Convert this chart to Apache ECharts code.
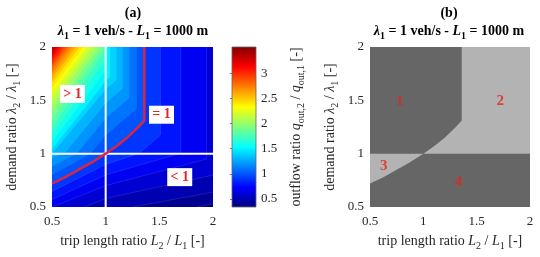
<!DOCTYPE html>
<html>
<head>
<meta charset="utf-8">
<script src="https://cdn.jsdelivr.net/npm/echarts@6/dist/echarts.min.js"></script>
<style>
html, body { margin: 0; padding: 0; background: #fff; }
#chart { width: 540px; height: 257px; }
</style>
</head>
<body>
<div id="chart"></div>
<script>
// axis ticks
var xTicks = [0.5, 1, 1.5, 2];
var yTicks = [0.5, 1, 1.5, 2];
var barTicks = [0.5, 1, 1.5, 2, 2.5, 3];
var colorLimits = [0.34, 3.52];
var refRatio = 1;

// contour lines, demand ratio between 1 and 2
var upperBase = 0.6;
var upperLevels = [0.7, 0.8, 0.9, 1.0, 1.1, 1.2, 1.3, 1.4, 1.5, 1.6, 1.7, 1.8, 1.9, 2.0,
  2.1, 2.2, 2.3, 2.4, 2.5, 2.6, 2.7, 2.8, 2.9, 3.0, 3.1, 3.2, 3.3, 3.4];
var upperLines = [
  [[1.94, 1], [1.94, 2]],
  [[1.686, 1], [1.70, 1.012], [1.70, 2]],
  [[1.306, 1], [1.51, 1.174], [1.51, 2]],
  [[1, 1], [1.1, 1.07], [1.2, 1.15], [1.3, 1.245], [1.36, 1.31], [1.36, 2]],
  [[0.86, 1], [1, 1.17], [1.29, 1.42], [1.29, 2]],
  [[0.73, 1], [1, 1.33], [1.22, 1.52], [1.22, 2]],
  [[0.615, 1], [1, 1.47], [1.16, 1.61], [1.16, 2]],
  [[0.5, 1], [1, 1.60], [1.1, 1.69], [1.1, 2]],
  [[0.5, 1.04], [1, 1.68], [1.04, 1.72], [1.04, 2]],
  [[0.5, 1.11], [1, 1.78], [1, 2]],
  [[0.5, 1.18], [1, 1.88], [1, 2]],
  [[0.5, 1.25], [1, 1.97], [1, 2]],
  [[0.5, 1.32], [0.985, 2]],
  [[0.5, 1.39], [0.945, 2]],
  [[0.5, 1.45], [0.905, 2]],
  [[0.5, 1.51], [0.865, 2]],
  [[0.5, 1.565], [0.828, 2]],
  [[0.5, 1.615], [0.790, 2]],
  [[0.5, 1.66], [0.755, 2]],
  [[0.5, 1.705], [0.722, 2]],
  [[0.5, 1.745], [0.690, 2]],
  [[0.5, 1.785], [0.660, 2]],
  [[0.5, 1.82], [0.632, 2]],
  [[0.5, 1.853], [0.606, 2]],
  [[0.5, 1.885], [0.583, 2]],
  [[0.5, 1.915], [0.561, 2]],
  [[0.5, 1.945], [0.540, 2]],
  [[0.5, 1.973], [0.520, 2]]
];

// contour lines, demand ratio between 0.5 and 1
var lowerBase = 0.34;
var lowerLevels = [0.4, 0.5, 0.6, 0.7, 0.8, 0.9, 1.0, 1.1, 1.2, 1.3];
var lowerLines = [
  [[1.85, 0.5], [2, 0.53]],
  [[1.25, 0.5], [2, 0.64]],
  [[0.8, 0.5], [1, 0.58], [2, 0.80]],
  [[0.5, 0.5], [1, 0.70], [1.94, 0.95], [1.94, 1]],
  [[0.5, 0.57], [1, 0.80], [1.686, 1]],
  [[0.5, 0.645], [1, 0.90], [1.306, 1]],
  [[0.5, 0.72], [0.625, 0.78], [0.75, 0.85], [0.875, 0.92], [1, 1]],
  [[0.5, 0.80], [0.86, 1]],
  [[0.5, 0.88], [0.73, 1]],
  [[0.5, 0.96], [0.6, 1]]
];

// outflow ratio = 1 curve, also the regime border in panel (b)
var unitCurve = [[0.5, 0.72], [0.625, 0.78], [0.75, 0.85], [0.875, 0.92], [1, 1],
  [1.1, 1.07], [1.2, 1.15], [1.3, 1.245], [1.36, 1.31], [1.36, 2]];

var ratioLabels = [['> 1', 0.69, 1.56], ['= 1', 1.52, 1.365], ['< 1', 1.69, 0.78]];
var regionLabels = [['1', 0.78, 1.49], ['2', 1.72, 1.49], ['3', 0.63, 0.88], ['4', 1.33, 0.73]];

var serif = "'Liberation Serif', 'DejaVu Serif', serif";

function jet(v) {
  var t = (v - colorLimits[0]) / (colorLimits[1] - colorLimits[0]);
  t = Math.max(0, Math.min(1, t));
  function c(k) { return Math.round(255 * Math.max(0, Math.min(1, 1.5 - Math.abs(4 * t - k)))); }
  return 'rgb(' + c(3) + ',' + c(2) + ',' + c(1) + ')';
}

// region above/left of a contour line inside a box [xmin, xmax, ymin, ymax]
function closeUp(line, box) {
  var pts = line.slice();
  var first = pts[0], last = pts[pts.length - 1];
  if (last[0] >= box[1]) pts.push([box[1], box[3]]);
  pts.push([box[0], box[3]]);
  if (first[0] > box[0]) pts.push([box[0], box[2]]);
  return pts;
}

function rect(box) {
  return [[box[0], box[2]], [box[1], box[2]], [box[1], box[3]], [box[0], box[3]]];
}

var upperBox = [0.5, 2, 1, 2];
var lowerBox = [0.5, 2, 0.5, 1];
var bands = [];
bands.push({ pts: rect(lowerBox), fill: jet(lowerBase) });
bands.push({ pts: rect(upperBox), fill: jet(upperBase) });
lowerLevels.forEach(function (lv, i) {
  bands.push({ pts: closeUp(lowerLines[i], lowerBox), fill: jet(lv), line: lv < 1 ? lowerLines[i] : null });
});
upperLevels.forEach(function (lv, i) {
  bands.push({ pts: closeUp(upperLines[i], upperBox), fill: jet(lv), line: lv < 1 ? upperLines[i] : null });
});

// regimes of panel (b)
var region2 = unitCurve.filter(function (p) { return p[0] >= 1; }).concat([[2, 2], [2, 1]]);
var region3 = [[0.5, 1]].concat(unitCurve.filter(function (p) { return p[0] <= 1; }).reverse());
var regions = [
  { pts: rect([0.5, 2, 0.5, 2]), fill: '#666666' },
  { pts: region2, fill: '#b3b3b3' },
  { pts: region3, fill: '#b3b3b3' }
];

var chart = echarts.init(document.getElementById('chart'));

function polyItem(list) {
  return function (params, api) {
    var b = list[api.value(2)];
    var kids = [{
      type: 'polygon',
      shape: { points: b.pts.map(function (p) { return api.coord(p); }) },
      style: { fill: b.fill }
    }];
    if (b.line) {
      kids.push({
        type: 'polyline',
        shape: { points: b.line.map(function (p) { return api.coord(p); }) },
        style: { stroke: 'rgba(255,255,255,0.18)', lineWidth: 0.6, fill: null }
      });
    }
    return { type: 'group', children: kids };
  };
}

var nameRich = {
  n: { fontFamily: serif, fontSize: 14, color: '#262626', lineHeight: 20, verticalAlign: 'middle' },
  i: { fontFamily: serif, fontSize: 14, fontStyle: 'italic', color: '#262626', lineHeight: 20, verticalAlign: 'middle' },
  s: { fontFamily: serif, fontSize: 10, color: '#262626', lineHeight: 10, verticalAlign: 'bottom' }
};
var titleRich = {
  b: { fontFamily: serif, fontSize: 14, fontWeight: 'bold', fill: '#000', lineHeight: 20, verticalAlign: 'middle' },
  bi: { fontFamily: serif, fontSize: 14, fontWeight: 'bold', fontStyle: 'italic', fill: '#000', lineHeight: 20, verticalAlign: 'middle' },
  bs: { fontFamily: serif, fontSize: 10, fontWeight: 'bold', fill: '#000', lineHeight: 10, verticalAlign: 'bottom' }
};
var titleText = '{bi|λ}{bs|1}{b| = 1 veh/s - }{bi|L}{bs|1}{b| = 1000 m}';

function valueAxis(grid, pos, nameStr, gap) {
  return {
    type: 'value', gridIndex: grid, position: pos, min: 0.5, max: 2, interval: 0.5,
    axisLine: { show: false }, axisTick: { show: false }, splitLine: { show: false },
    axisLabel: { fontFamily: serif, fontSize: 13, color: '#262626', margin: pos === 'bottom' ? 8 : 6 },
    name: nameStr, nameLocation: 'middle', nameGap: gap,
    nameTextStyle: { rich: nameRich }
  };
}

var xName = '{n|trip length ratio }{i|L}{s|2}{n| / }{i|L}{s|1}{n| [-]}';
var yName = '{n|demand ratio }{i|λ}{s|2}{n| / }{i|λ}{s|1}{n| [-]}';

chart.setOption({
  animation: false,
  grid: [
    { left: 52, top: 47, width: 161, height: 160 },
    { left: 370, top: 47, width: 160, height: 160 },
    { left: 232, top: 47, width: 24, height: 160 }
  ],
  xAxis: [
    valueAxis(0, 'bottom', xName, 24),
    valueAxis(1, 'bottom', xName, 24),
    { type: 'value', gridIndex: 2, min: 0, max: 1, show: false }
  ],
  yAxis: [
    valueAxis(0, 'left', yName, 30),
    valueAxis(1, 'left', yName, 30),
    {
      type: 'value', gridIndex: 2, position: 'right', min: colorLimits[0], max: colorLimits[1],
      axisLine: { show: false }, splitLine: { show: false },
      axisTick: { show: true, inside: true, length: 2, customValues: barTicks, lineStyle: { color: '#777' } },
      axisLabel: { customValues: barTicks, fontFamily: serif, fontSize: 13, color: '#262626', margin: 5 },
      name: '{n|outflow ratio }{i|q}{s|out,2}{n| / }{i|q}{s|out,1}{n| [-]}',
      nameLocation: 'middle', nameGap: 30, nameRotate: 90,
      nameTextStyle: { rich: nameRich }
    }
  ],
  graphic: [
    { type: 'text', x: 133, y: 13, style: { text: '(a)', font: 'bold 14px ' + serif, fill: '#000', align: 'center', verticalAlign: 'middle' } },
    { type: 'text', x: 133, y: 31, style: { text: titleText, rich: titleRich, align: 'center', verticalAlign: 'middle' } },
    { type: 'text', x: 449, y: 13, style: { text: '(b)', font: 'bold 14px ' + serif, fill: '#000', align: 'center', verticalAlign: 'middle' } },
    { type: 'text', x: 449, y: 31, style: { text: titleText, rich: titleRich, align: 'center', verticalAlign: 'middle' } }
  ],
  series: [
    {
      type: 'custom', xAxisIndex: 0, yAxisIndex: 0, silent: true,
      data: bands.map(function (b, i) { return [0.5, 0.5, i]; }),
      renderItem: polyItem(bands)
    },
    {
      type: 'line', xAxisIndex: 0, yAxisIndex: 0, symbol: 'none', silent: true,
      data: [[refRatio, 0.5], [refRatio, 2]],
      lineStyle: { color: '#ffffff', width: 2 }
    },
    {
      type: 'line', xAxisIndex: 0, yAxisIndex: 0, symbol: 'none', silent: true,
      data: [[0.5, refRatio], [2, refRatio]],
      lineStyle: { color: '#ffffff', width: 2 }
    },
    {
      type: 'line', xAxisIndex: 0, yAxisIndex: 0, symbol: 'none', silent: true,
      data: unitCurve,
      lineStyle: { color: '#d7263d', width: 2.5 }
    },
    {
      type: 'scatter', xAxisIndex: 0, yAxisIndex: 0, silent: true,
      symbol: 'rect', symbolSize: [25, 18],
      itemStyle: { color: '#ffffff', opacity: 1 },
      label: { show: true, position: 'inside', formatter: '{b}', fontFamily: serif, fontSize: 14, fontWeight: 'bold', color: '#e0262b' },
      data: ratioLabels.map(function (d) { return { name: d[0], value: [d[1], d[2]] }; })
    },
    {
      type: 'custom', xAxisIndex: 1, yAxisIndex: 1, silent: true,
      data: regions.map(function (r, i) { return [0.5, 0.5, i]; }),
      renderItem: polyItem(regions)
    },
    {
      type: 'scatter', xAxisIndex: 1, yAxisIndex: 1, silent: true,
      symbolSize: 0,
      label: { show: true, position: 'inside', formatter: '{b}', fontFamily: serif, fontSize: 15, fontWeight: 'bold', color: '#e3241f' },
      data: regionLabels.map(function (d) { return { name: d[0], value: [d[1], d[2]] }; })
    },
    {
      type: 'custom', xAxisIndex: 2, yAxisIndex: 2, silent: true,
      data: [[0, colorLimits[0]]],
      renderItem: function (params, api) {
        var p0 = api.coord([0, colorLimits[1]]);
        var p1 = api.coord([1, colorLimits[0]]);
        var stops = [0, 0.125, 0.375, 0.625, 0.875, 1].map(function (t) {
          return { offset: t, color: jet(colorLimits[0] + t * (colorLimits[1] - colorLimits[0])) };
        });
        return {
          type: 'rect',
          shape: { x: p0[0], y: p0[1], width: p1[0] - p0[0], height: p1[1] - p0[1] },
          style: { fill: new echarts.graphic.LinearGradient(0, 1, 0, 0, stops), stroke: '#666', lineWidth: 0.8 }
        };
      }
    }
  ]
});
</script>
</body>
</html>
